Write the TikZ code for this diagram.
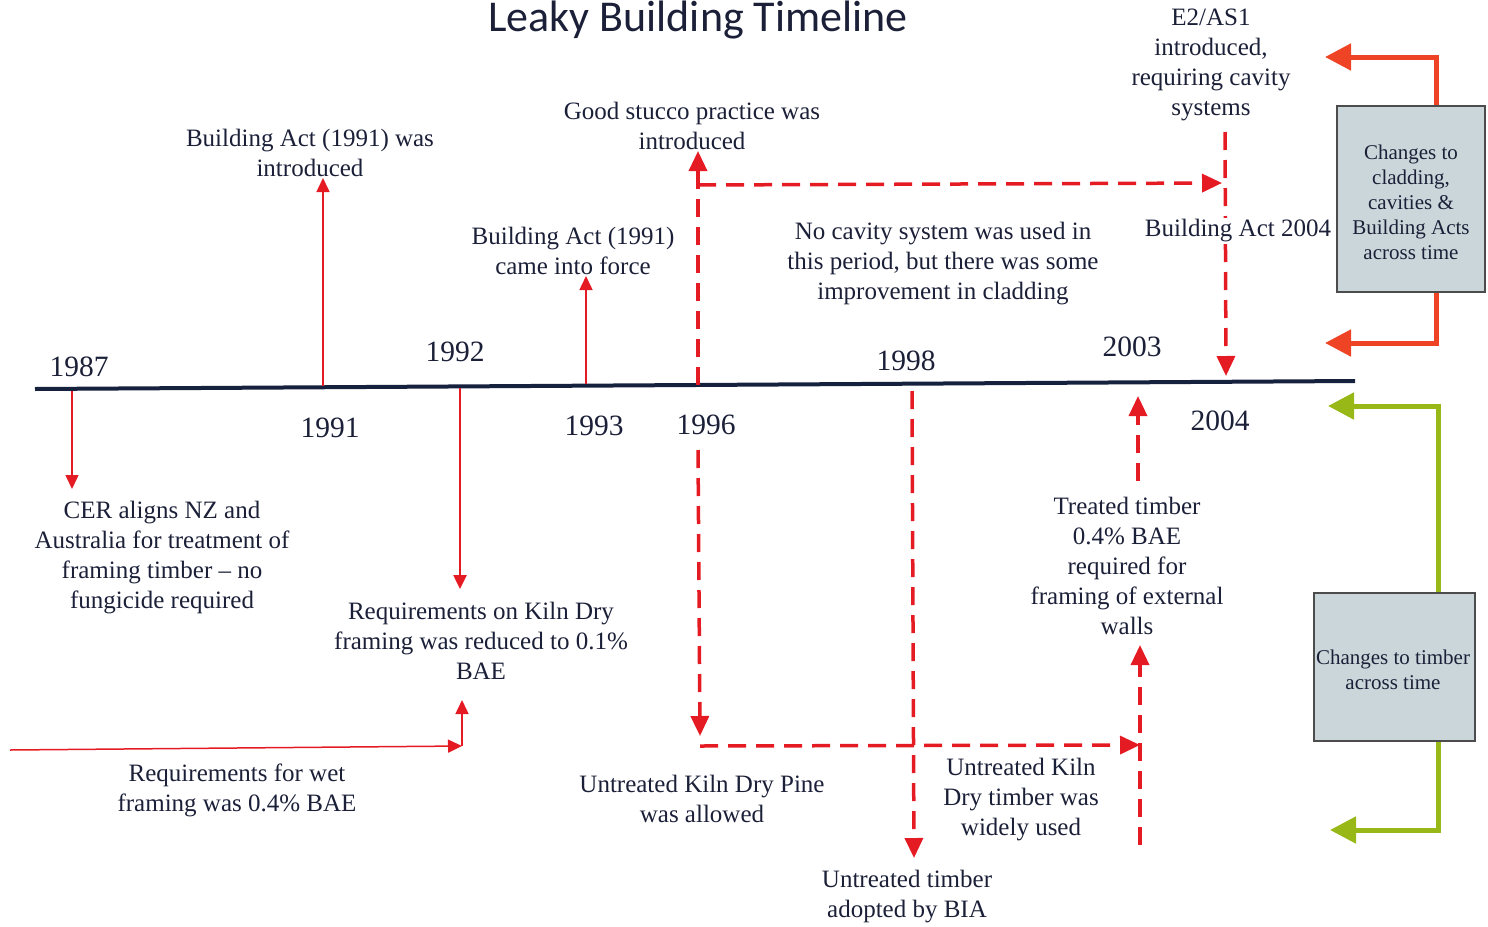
\documentclass[tikz,border=0pt]{standalone}
\usepackage{fontspec}
\setmainfont{Liberation Serif}
\newfontfamily\bodyfont[Ligatures=TeX]{Liberation Serif}
\newfontfamily\titlefont{Carlito}
\usetikzlibrary{arrows.meta,calc}
\definecolor{txt}{HTML}{1B2038}
\definecolor{tl}{HTML}{16213D}
\definecolor{rd}{HTML}{E51B24}
\definecolor{orr}{HTML}{EE4425}
\definecolor{grn}{HTML}{97B816}
\definecolor{boxf}{HTML}{CBD6DA}
\begin{document}
\begin{tikzpicture}[x=1pt,y=-1pt,
 lbl/.style={text=txt, align=center, inner sep=0pt, font=\bodyfont\fontsize{25}{30}\selectfont},
 yr/.style={text=txt, inner sep=0pt, font=\bodyfont\fontsize{29.5}{30}\selectfont},
 thinarr/.style={draw=rd, line width=1.5pt, -{Triangle[length=14pt,width=13pt]}},
 dsh/.style={draw=rd, line width=3.5pt, dash pattern=on 18pt off 10pt, -{Triangle[length=20pt,width=18pt]}},
 fat/.style={line width=5pt, -{Triangle[length=26pt,width=26pt]}},
 cbox/.style={draw=black!70, line width=1.5pt, fill=boxf, align=center, text=txt, font=\bodyfont\fontsize{21}{25}\selectfont, inner sep=0pt}
]
\useasboundingbox (0,0) rectangle (1488,926);

% title
\node[font=\titlefont\fontsize{44}{48}\selectfont, text=txt, inner sep=0pt, anchor=base] (title) at (698,31) {Leaky Building Timeline};

% timeline
\coordinate (tlL) at (35,389);
\coordinate (tlR) at (1355,381);
\draw[tl, line width=4pt] (tlL) -- (tlR);

% years
\node[yr] (y1987) at (79,367) {1987};
\node[yr] (y1991) at (330,428) {1991};
\node[yr] (y1992) at (455,352) {1992};
\node[yr] (y1993) at (594,426) {1993};
\node[yr] (y1996) at (706,425) {1996};
\node[yr] (y1998) at (906,361) {1998};
\node[yr] (y2003) at (1132,347) {2003};
\node[yr] (y2004) at (1220,421) {2004};

% labels above
\node[lbl] (t91) at (310,153) {Building Act (1991) was\\introduced};
\node[lbl] (t93) at (573,251) {Building Act (1991)\\came into force};
\node[lbl] (t96) at (692,126) {Good stucco practice was\\introduced};
\node[lbl] (tnocav) at (943,264) {No cavity system was used in\\this period, but there was some\\improvement in cladding};
\node[lbl] (te2) at (1211,65) {E2/AS1\\introduced,\\requiring cavity\\systems};

% labels below
\node[lbl] (tcer) at (162,558) {CER aligns NZ and\\Australia for treatment of\\framing timber – no\\fungicide required};
\node[lbl] (tkiln) at (481,641) {Requirements on Kiln Dry\\framing was reduced to 0.1\%\\BAE};
\node[lbl] (twet) at (237,790) {Requirements for wet\\framing was 0.4\% BAE};
\node[lbl] (tpine) at (702,799) {Untreated Kiln Dry Pine\\was allowed};
\node[lbl] (tbia) at (907,897) {Untreated timber\\adopted by BIA};
\node[lbl] (twide) at (1021,800) {Untreated Kiln\\Dry timber was\\widely used};
\node[lbl] (ttreat) at (1127,566) {Treated timber\\0.4\% BAE\\required for\\framing of external\\walls};

% thin arrows above
\coordinate (a91s) at (323,386); \coordinate (a91e) at (323,178);
\draw[thinarr] (a91s) -- (a91e);
\coordinate (a93s) at (586,384); \coordinate (a93e) at (586,276);
\draw[thinarr] (a93s) -- (a93e);

% thin arrows below
\coordinate (a87s) at (72,391); \coordinate (a87e) at (72,489);
\draw[thinarr] (a87s) -- (a87e);
\coordinate (a92s) at (460,388); \coordinate (a92e) at (460,589);
\draw[thinarr, line width=2.5pt] (a92s) -- (a92e);
\coordinate (wetS) at (10,750); \coordinate (wetC) at (462,746); \coordinate (wetE) at (462,700);
\draw[thinarr] (wetS) -- (wetC);
\draw[thinarr] (wetC) -- (wetE);

% dashed arrows above
\coordinate (d96s) at (698,385); \coordinate (d96e) at (698,151);
\draw[dsh] (d96s) -- (d96e);
\coordinate (dhs) at (698,185); \coordinate (dhe) at (1222,183);
\draw[dsh] (dhs) -- (dhe);
\coordinate (d04s) at (1225,132); \coordinate (d04e) at (1226,376);
\draw[dsh] (d04s) -- (d04e);
\node[lbl, fill=white, inner sep=2pt] (tba04) at (1238,231) {Building Act 2004};

% dashed arrows below
\coordinate (dps) at (698,450); \coordinate (dpe) at (700,736);
\draw[dsh] (dps) -- (dpe);
\coordinate (dh2s) at (700,746); \coordinate (dh2e) at (1140,745);
\draw[dsh] (dh2s) -- (dh2e);
\coordinate (dbs) at (912,391); \coordinate (dbe) at (914,858);
\draw[dsh] (dbs) -- (dbe);
\coordinate (dts) at (1140,845); \coordinate (dte) at (1140,645);
\draw[dsh] (dts) -- (dte);
\coordinate (dt2s) at (1138,481); \coordinate (dt2e) at (1138,396);
\draw[dsh] (dt2s) -- (dt2e);

% right boxes
\node[cbox, minimum width=148pt, minimum height=186pt] (box1) at (1411,199) {};
\node[font=\bodyfont\fontsize{21}{25}\selectfont, text=txt, align=center, inner sep=0pt] (box1t) at (1411,202) {Changes to\\cladding,\\cavities \&\\Building Acts\\across time};
\node[cbox, minimum width=161pt, minimum height=148pt] (box2) at (1394.5,667) {};
\node[font=\bodyfont\fontsize{21}{25}\selectfont, text=txt, align=center, inner sep=0pt] (box2t) at (1393,670) {Changes to timber\\across time};

\coordinate (o1) at (1325,57); \coordinate (o2) at (1325,343);
\draw[orr, fat] ([xshift=25pt]box1.north) |- (o1);
\draw[orr, fat] ([xshift=25pt]box1.south) |- (o2);
\coordinate (g1) at (1328,406); \coordinate (g2) at (1330,830);
\draw[grn, fat] ([xshift=43.5pt]box2.north) |- (g1);
\draw[grn, fat] ([xshift=43.5pt]box2.south) |- (g2);
\end{tikzpicture}
\end{document}
